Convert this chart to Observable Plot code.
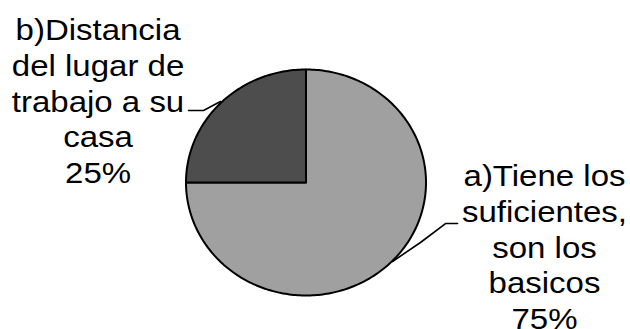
<!DOCTYPE html>
<html><head><meta charset="utf-8">
<script src="https://cdn.jsdelivr.net/npm/d3@7"></script>
<script src="https://cdn.jsdelivr.net/npm/@observablehq/plot@0.6"></script>
<style>
body{margin:0;background:#fff}
#chart svg{display:block}
</style>
</head><body><div id="chart"></div>
<script>
const categories = ["a", "b"];
const values = [75, 25];
const percentLabels = ["75%", "25%"];
const labelLines = [
  ["a)Tiene los", "suficientes,", "son los", "basicos"],
  ["b)Distancia", "del lugar de", "trabajo a su", "casa"]
];
const colors = ["#a0a0a0", "#4d4d4d"];

// layout (pie units: radius = 1)
const labelAnchors = [{x: 1.9875, y: -0.035}, {x: -1.733, y: 1.257}];
const lineStep = 35.6 / 113;
const leaders = [
  [[1.2625, -0.363], [1.1625, -0.363], [0.954, -0.531], [0.721, -0.699]],
  [[-0.979, 0.637], [-0.854, 0.637], [-0.7125, 0.717]]
];

const total = d3.sum(values);
const slices = [];
let acc = 0;
values.forEach((v, i) => {
  const a0 = acc / total * 2 * Math.PI, a1 = (acc + v) / total * 2 * Math.PI;
  acc += v;
  const n = Math.max(4, Math.ceil(v / total * 360));
  const pts = [{x: 0, y: 0}];
  for (let k = 0; k <= n; k++) {
    const a = a0 + (a1 - a0) * k / n;
    pts.push({x: Math.sin(a), y: Math.cos(a)});
  }
  pts.push({x: 0, y: 0});
  slices.push(pts);
});

const texts = [];
categories.forEach((c, i) => {
  const lines = [...labelLines[i], percentLabels[i]];
  lines.forEach((t, j) => texts.push({text: t, x: labelAnchors[i].x, y: labelAnchors[i].y - j * lineStep}));
});

const leaderData = leaders.flatMap((pts, i) => pts.map(([x, y]) => ({x, y, g: i})));

const chart = Plot.plot({
  width: 630, height: 329,
  margin: 0,
  x: {domain: [-1, 1], range: [185.5, 425.5], axis: null},
  y: {domain: [-1, 1], range: [295, 69], axis: null},
  style: {background: "#fff", fontFamily: "'Liberation Sans', Arial, sans-serif"},
  marks: [
    ...slices.map((pts, i) => Plot.line(pts, {x: "x", y: "y", fill: colors[i], stroke: "#000", strokeWidth: 2, strokeLinejoin: "round"})),
    Plot.line(leaderData, {x: "x", y: "y", z: "g", stroke: "#000", strokeWidth: 1.6}),
    Plot.text(texts, {x: "x", y: "y", text: "text", fontSize: 30, lineAnchor: "bottom", textAnchor: "middle", fill: "#000"})
  ]
});
d3.select(chart).selectAll('g[aria-label="text"] text').each(function() {
  const t = this.getAttribute("transform") || "";
  this.setAttribute("transform", t + " scale(1.1,1)");
});
document.getElementById("chart").append(chart);
</script>
</body></html>
